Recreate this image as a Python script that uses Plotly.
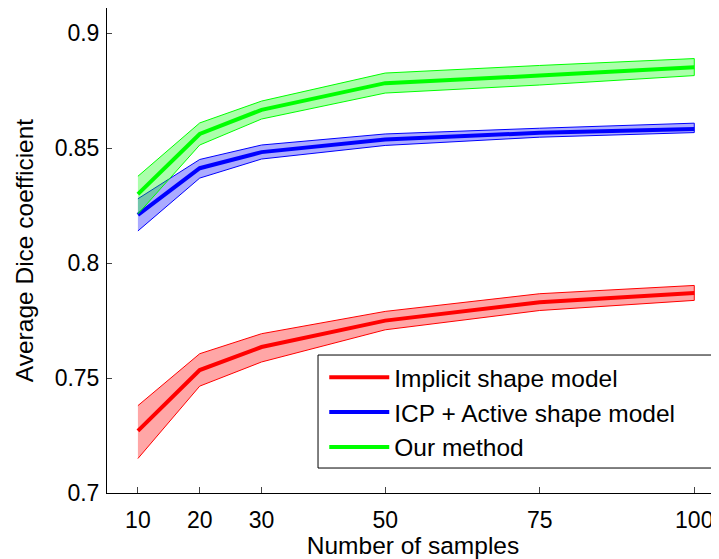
import plotly.graph_objects as go

# number of training samples
samples = [10, 20, 30, 50, 75, 100]

# mean dice and band (upper / lower) per method
ism_mean = [0.727, 0.7535, 0.7635, 0.775, 0.783, 0.787]
ism_upper = [0.738, 0.7606, 0.7693, 0.779, 0.7867, 0.7903]
ism_lower = [0.715, 0.7465, 0.757, 0.771, 0.7794, 0.7838]

icp_mean = [0.821, 0.8413, 0.8483, 0.8538, 0.8567, 0.8584]
icp_upper = [0.828, 0.8451, 0.8514, 0.8562, 0.8587, 0.8609]
icp_lower = [0.814, 0.837, 0.8453, 0.8512, 0.8548, 0.8568]

our_mean = [0.830, 0.8562, 0.8667, 0.8783, 0.8816, 0.8852]
our_upper = [0.8378, 0.861, 0.8705, 0.8827, 0.886, 0.889]
our_lower = [0.8214, 0.8514, 0.8627, 0.874, 0.8775, 0.8816]

x_ticks = [10, 20, 30, 50, 75, 100]
y_ticks = [0.7, 0.75, 0.8, 0.85, 0.9]
y_ticktext = ['0.7', '0.75', '0.8', '0.85', '0.9']

series = [
    ('Implicit shape model', ism_mean, ism_upper, ism_lower, '#ff0000', 'rgba(255,0,0,0.35)'),
    ('ICP + Active shape model', icp_mean, icp_upper, icp_lower, '#0000ff', 'rgba(0,0,255,0.33)'),
    ('Our method', our_mean, our_upper, our_lower, '#00ff00', 'rgba(0,255,0,0.33)'),
]

FONT = 'Arial, Liberation Sans, Helvetica, sans-serif'

fig = go.Figure()

for i, (name, mean, upper, lower, color, fill) in enumerate(series):
    # shaded band
    fig.add_trace(go.Scatter(
        x=samples + samples[::-1],
        y=upper + lower[::-1],
        fill='toself',
        fillcolor=fill,
        line=dict(color=color, width=1),
        mode='lines',
        showlegend=False,
        hoverinfo='skip',
    ))
    # mean line
    fig.add_trace(go.Scatter(
        x=samples, y=mean,
        mode='lines',
        name=name,
        legendgroup=f'g{i}',
        line=dict(color=color, width=4),
    ))

fig.update_xaxes(
    range=[5, 104],
    tickvals=x_ticks,
    ticks='inside', ticklen=6, tickwidth=1, tickcolor='#444',
    showline=True, linecolor='black', linewidth=1,
    showgrid=False, zeroline=False, automargin=False,
    tickfont=dict(size=23, color='black'), ticklabelstandoff=6,
    title=dict(text='Number of samples', font=dict(size=24.5, color='black'), standoff=5),
)
fig.update_yaxes(
    range=[0.7, 0.911],
    tickvals=y_ticks, ticktext=y_ticktext,
    ticks='inside', ticklen=5, tickwidth=1, tickcolor='#444',
    showline=True, linecolor='black', linewidth=1,
    showgrid=False, zeroline=False, automargin=False,
    tickfont=dict(size=23, color='black'), ticklabelstandoff=2,
    title=dict(text='Average Dice coefficient', font=dict(size=24.5, color='black'), standoff=14),
)

# legend frame (wider than plotly's auto box, as in the original)
fig.add_shape(
    type='rect', xref='paper', yref='paper',
    x0=0.3448, x1=0.998, y0=0.0515, y1=0.2845,
    fillcolor='white', line=dict(color='black', width=1), layer='above',
)

# page body adds an 8px offset, so the figure is 8px smaller than the window
fig.update_layout(
    width=711, height=551,
    margin=dict(l=99, r=0, t=0, b=66),
    paper_bgcolor='white', plot_bgcolor='white',
    font=dict(family=FONT, color='black'),
    legend=dict(
        x=0.355, y=0.285, xanchor='left', yanchor='top',
        bgcolor='rgba(0,0,0,0)', borderwidth=0,
        font=dict(size=24.5, color='black'),
        traceorder='grouped', tracegroupgap=0,
        itemwidth=60,
    ),
)

fig.write_html('out.html')
